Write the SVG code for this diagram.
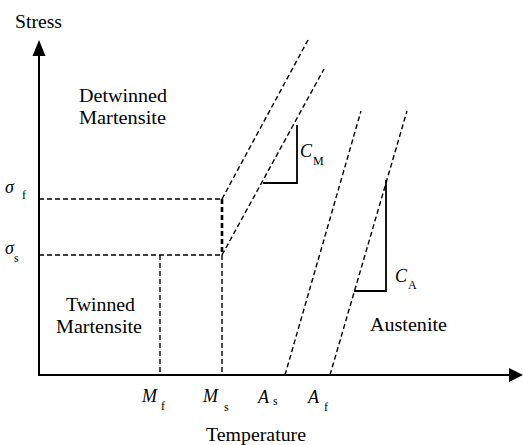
<svg xmlns="http://www.w3.org/2000/svg" width="523" height="445" viewBox="0 0 523 445">
<style>
.lbl{font-size:18px}
.it{font-size:18px;font-style:italic}
.sub{font-size:12px}
.axis{stroke:#000;stroke-width:2;fill:none}
.dash{stroke:#000;stroke-width:1.4;stroke-dasharray:5 3;fill:none}
.dashthick{stroke:#000;stroke-width:2.6;stroke-dasharray:5 3;fill:none}
.solid{stroke:#000;stroke-width:1.8;fill:none}
</style>
<rect width="523" height="445" fill="#fff"/>
<g id="axes">
<line class="axis" x1="39" y1="375" x2="39" y2="54"/>
<polygon points="39,40 32.5,56 45.5,56" fill="#000"/>
<line class="axis" x1="38" y1="375" x2="511" y2="375"/>
<polygon points="523,375 509,368 509,382" fill="#000"/>
</g>
<g id="connectors">
<line class="dash" x1="39" y1="199" x2="222" y2="199"/>
<line class="dash" x1="39" y1="255" x2="222" y2="255"/>
<line class="dash" x1="160" y1="255" x2="160" y2="375"/>
<line class="dashthick" x1="222" y1="199" x2="222" y2="255"/>
<line class="dash" x1="222" y1="255" x2="222" y2="375"/>
<line class="dash" x1="222" y1="199" x2="308" y2="40"/>
<line class="dash" x1="222" y1="255" x2="324" y2="69"/>
<line class="dash" x1="285" y1="375" x2="361" y2="111"/>
<line class="dash" x1="330" y1="375" x2="407" y2="111"/>
<polyline class="solid" points="263,183 297,183 297,125"/>
<polyline class="solid" points="354,291 386,291 386,180"/>
</g>
<g font-family="Liberation Serif, DejaVu Serif, serif" fill="#000">
<g id="stress-label"><text class="lbl" x="15" y="28" textLength="47" lengthAdjust="spacingAndGlyphs">Stress</text></g>
<g id="temperature-label"><text class="lbl" x="206" y="441" textLength="100" lengthAdjust="spacingAndGlyphs">Temperature</text></g>
<g id="detwinned">
<text class="lbl" x="79" y="102" textLength="88" lengthAdjust="spacingAndGlyphs">Detwinned</text>
<text class="lbl" x="79" y="124" textLength="87" lengthAdjust="spacingAndGlyphs">Martensite</text>
</g>
<g id="twinned">
<text class="lbl" x="66" y="311" textLength="69" lengthAdjust="spacingAndGlyphs">Twinned</text>
<text class="lbl" x="56" y="333" textLength="86" lengthAdjust="spacingAndGlyphs">Martensite</text>
</g>
<g id="austenite"><text class="lbl" x="370" y="331" textLength="77" lengthAdjust="spacingAndGlyphs">Austenite</text></g>
<g id="sigma-f"><text class="it" x="5" y="193">σ</text><text class="sub" x="22" y="199">f</text></g>
<g id="sigma-s"><text class="it" x="5" y="254">σ</text><text class="sub" x="14" y="262">s</text></g>
<g id="Mf"><text class="it" x="142" y="402">M</text><text class="sub" x="161" y="410">f</text></g>
<g id="Ms"><text class="it" x="203" y="402">M</text><text class="sub" x="224" y="411">s</text></g>
<g id="As"><text class="it" x="258" y="403">A</text><text class="sub" x="273" y="405">s</text></g>
<g id="Af"><text class="it" x="308" y="403">A</text><text class="sub" x="324" y="411">f</text></g>
<g id="CM"><text class="it" x="300" y="157">C</text><text class="sub" x="313" y="165">M</text></g>
<g id="CA"><text class="it" x="395" y="282">C</text><text class="sub" x="408" y="289">A</text></g>
</g>
</svg>
